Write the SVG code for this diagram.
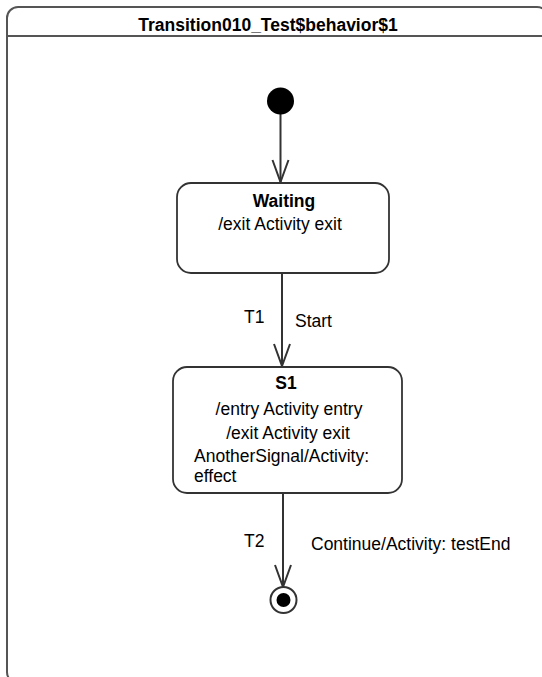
<svg xmlns="http://www.w3.org/2000/svg" width="542" height="677" viewBox="0 0 542 677">
<defs>
<style>
text{font-family:"Liberation Sans",Arial,sans-serif;fill:#000;font-size:17.5px}
.b{font-weight:bold}
.c{text-anchor:middle}
.frame{fill:#fff;stroke:#555;stroke-width:2}
.state{fill:#fff;stroke:#333;stroke-width:1.8}
.edge{fill:none;stroke:#333;stroke-width:2}
</style>
<marker id="arr" viewBox="0 0 26 20" refX="24" refY="10" markerWidth="26" markerHeight="20" markerUnits="userSpaceOnUse" orient="auto">
<path d="M2,2 L24,10 L2,18" fill="none" stroke="#333" stroke-width="2"/>
</marker>
</defs>
<g id="frame">
<rect class="frame" x="7" y="7" width="541" height="676" rx="11"/>
<line x1="7" y1="36" x2="548" y2="36" stroke="#555" stroke-width="2"/>
<text class="b c" x="268" y="31">Transition010_Test$behavior$1</text>
</g>
<g id="connectors">
<path class="edge" d="M280.5,114 L280.5,182" marker-end="url(#arr)"/>
<path class="edge" d="M282,273 L282,366" marker-end="url(#arr)"/>
<path class="edge" d="M283,493 L283,587" marker-end="url(#arr)"/>
<text x="244" y="323">T1</text>
<text x="295" y="327">Start</text>
<text x="244" y="547">T2</text>
<text x="311" y="550">Continue/Activity: testEnd</text>
</g>
<g id="initial">
<circle cx="280.5" cy="101" r="13.5" fill="#000"/>
</g>
<g id="Waiting">
<rect class="state" x="177" y="183" width="212" height="90" rx="14"/>
<text class="b c" x="284" y="207">Waiting</text>
<text class="c" x="280" y="230">/exit Activity exit</text>
</g>
<g id="S1">
<rect class="state" x="173" y="367" width="229" height="126" rx="14"/>
<text class="b c" x="286" y="389">S1</text>
<text class="c" x="289" y="415">/entry Activity entry</text>
<text class="c" x="288" y="439">/exit Activity exit</text>
<text x="194" y="462">AnotherSignal/Activity:</text>
<text x="194" y="482">effect</text>
</g>
<g id="final">
<circle cx="283.5" cy="600" r="13" fill="#fff" stroke="#333" stroke-width="2"/>
<circle cx="283.5" cy="600" r="7" fill="#000"/>
</g>
</svg>
